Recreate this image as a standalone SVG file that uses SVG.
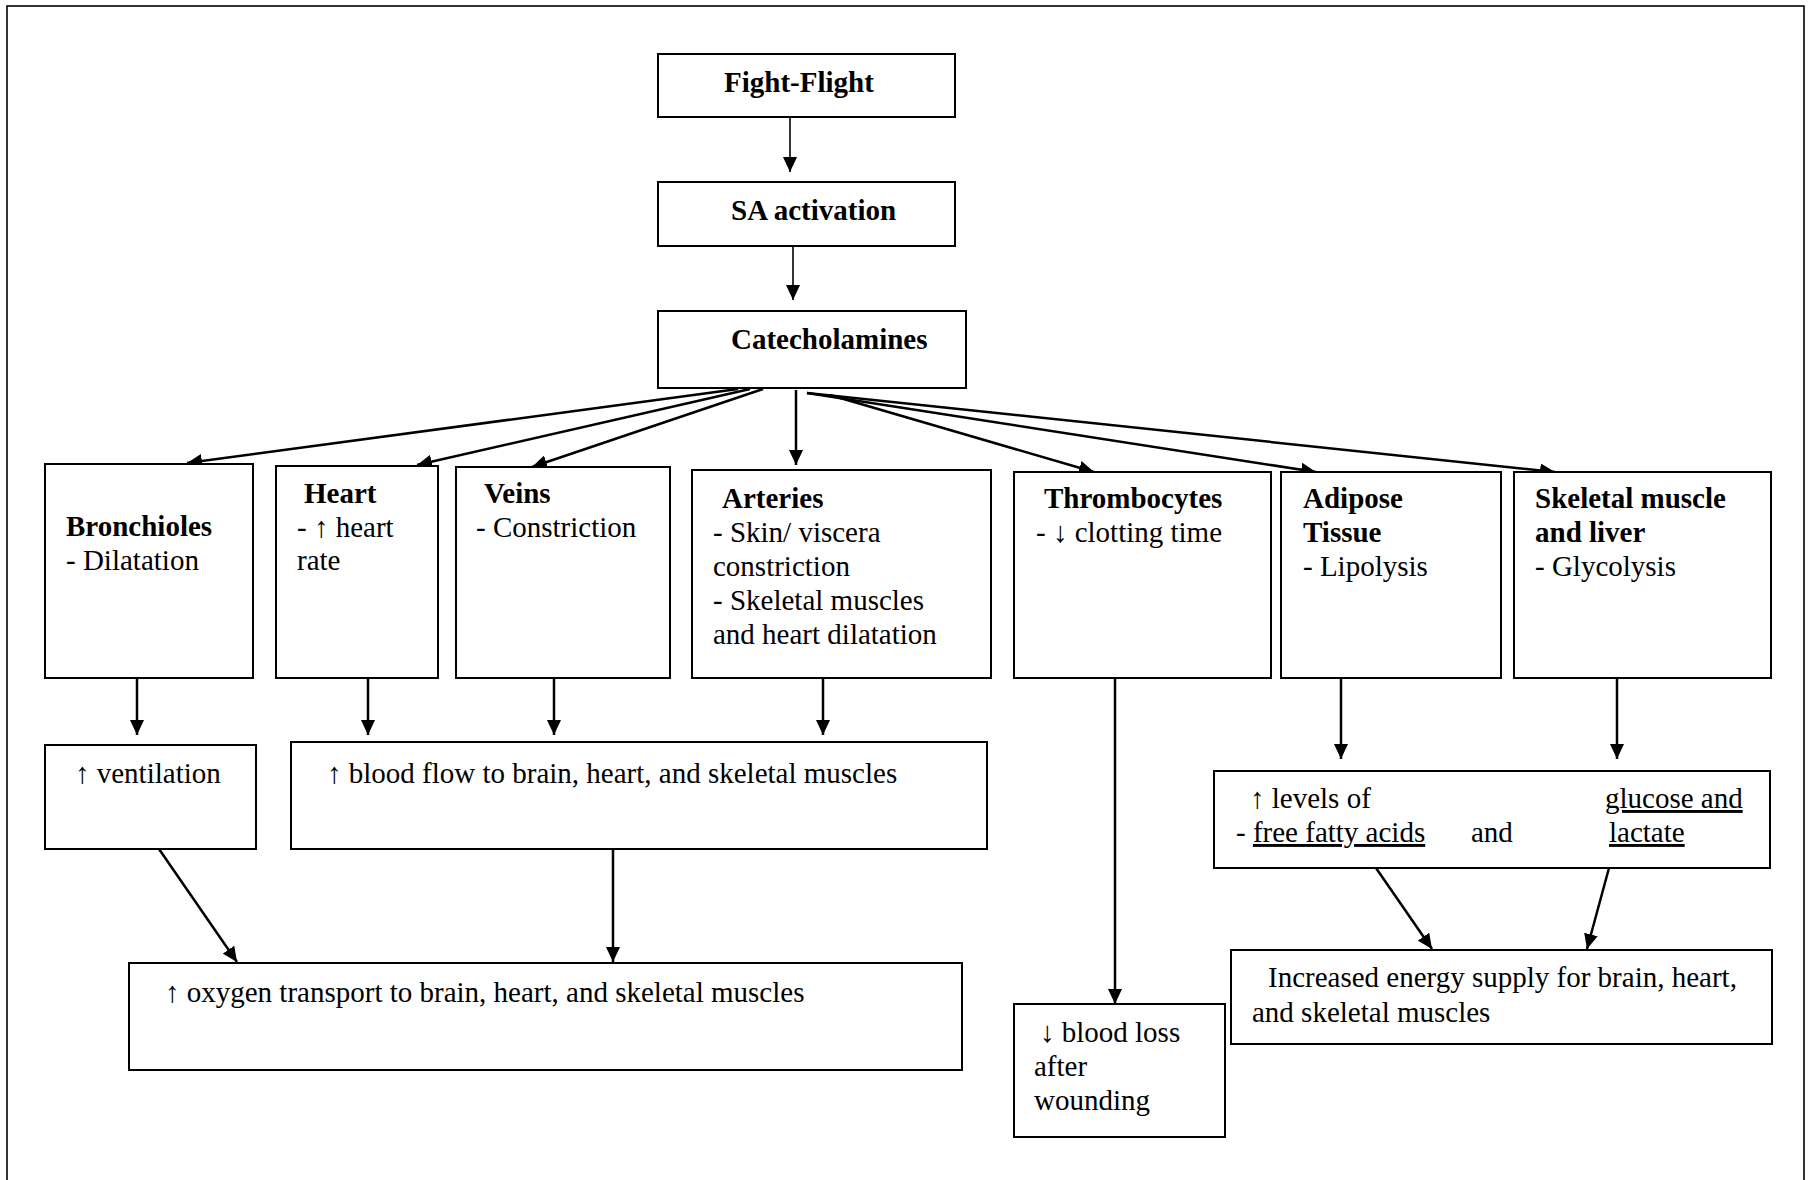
<svg xmlns="http://www.w3.org/2000/svg" width="1808" height="1180" viewBox="0 0 1808 1180">
<style>
.box{fill:#fff;stroke:#000;stroke-width:2}
.t{font-family:"Liberation Serif","Times New Roman",serif;font-size:29px;fill:#000}
.b{font-weight:bold}
.u{text-decoration:underline}
.c{stroke:#000;stroke-width:2.5;fill:none;marker-end:url(#ah)}
.thin{stroke-width:1.6}
</style>
<defs>
<marker id="ah" markerUnits="userSpaceOnUse" markerWidth="16" markerHeight="14" refX="15" refY="7" orient="auto">
<path d="M0,0 L15,7 L0,14 z" fill="#000"/>
</marker>
</defs>
<rect x="0" y="0" width="1808" height="1180" fill="#fff"/>
<rect x="7" y="6" width="1797" height="1190" fill="none" stroke="#000" stroke-width="1.6"/>

<g id="connectors">
<line class="c thin" x1="790" y1="117" x2="790" y2="172"/>
<line class="c thin" x1="793" y1="246" x2="793" y2="300"/>
<line class="c" x1="738" y1="389" x2="187" y2="463"/>
<line class="c" x1="750" y1="389" x2="417" y2="465"/>
<line class="c" x1="763" y1="389" x2="532" y2="467"/>
<line class="c" x1="796" y1="390" x2="796" y2="465"/>
<line class="c" x1="830" y1="395" x2="1094" y2="472"/>
<line class="c" x1="807" y1="393" x2="1316" y2="472"/>
<line class="c" x1="807" y1="393" x2="1555" y2="472"/>
<line class="c" x1="137" y1="678" x2="137" y2="735"/>
<line class="c" x1="368" y1="678" x2="368" y2="735"/>
<line class="c" x1="554" y1="678" x2="554" y2="735"/>
<line class="c" x1="823" y1="678" x2="823" y2="735"/>
<line class="c" x1="1341" y1="678" x2="1341" y2="759"/>
<line class="c" x1="1617" y1="678" x2="1617" y2="759"/>
<line class="c" x1="1115" y1="678" x2="1115" y2="1004"/>
<line class="c" x1="159" y1="849" x2="237" y2="962"/>
<line class="c" x1="613" y1="849" x2="613" y2="962"/>
<line class="c" x1="1376" y1="868" x2="1432" y2="949"/>
<line class="c" x1="1609" y1="868" x2="1587" y2="949"/>
</g>

<g id="fight-flight">
<rect class="box" x="658" y="54" width="297" height="63"/>
<text class="t b" x="724" y="92">Fight-Flight</text>
</g>
<g id="sa-activation">
<rect class="box" x="658" y="182" width="297" height="64"/>
<text class="t b" x="731" y="220">SA activation</text>
</g>
<g id="catecholamines">
<rect class="box" x="658" y="311" width="308" height="77"/>
<text class="t b" x="731" y="349">Catecholamines</text>
</g>

<g id="bronchioles">
<rect class="box" x="45" y="464" width="208" height="214"/>
<text class="t b" x="66" y="536">Bronchioles</text>
<text class="t" x="66" y="570">- Dilatation</text>
</g>
<g id="heart">
<rect class="box" x="276" y="466" width="162" height="212"/>
<text class="t b" x="304" y="503">Heart</text>
<text class="t" x="297" y="537">- ↑ heart</text>
<text class="t" x="297" y="570">rate</text>
</g>
<g id="veins">
<rect class="box" x="456" y="467" width="214" height="211"/>
<text class="t b" x="484" y="503">Veins</text>
<text class="t" x="476" y="537">- Constriction</text>
</g>
<g id="arteries">
<rect class="box" x="692" y="470" width="299" height="208"/>
<text class="t b" x="722" y="508">Arteries</text>
<text class="t" x="713" y="542">- Skin/ viscera</text>
<text class="t" x="713" y="576">constriction</text>
<text class="t" x="713" y="610">- Skeletal muscles</text>
<text class="t" x="713" y="644">and heart dilatation</text>
</g>
<g id="thrombocytes">
<rect class="box" x="1014" y="472" width="257" height="206"/>
<text class="t b" x="1044" y="508">Thrombocytes</text>
<text class="t" x="1036" y="542">- ↓ clotting time</text>
</g>
<g id="adipose">
<rect class="box" x="1281" y="472" width="220" height="206"/>
<text class="t b" x="1303" y="508">Adipose</text>
<text class="t b" x="1303" y="542">Tissue</text>
<text class="t" x="1303" y="576">- Lipolysis</text>
</g>
<g id="skeletal-liver">
<rect class="box" x="1514" y="472" width="257" height="206"/>
<text class="t b" x="1535" y="508">Skeletal muscle</text>
<text class="t b" x="1535" y="542">and liver</text>
<text class="t" x="1535" y="576">- Glycolysis</text>
</g>

<g id="ventilation">
<rect class="box" x="45" y="745" width="211" height="104"/>
<text class="t" x="75" y="783">↑ ventilation</text>
</g>
<g id="blood-flow">
<rect class="box" x="291" y="742" width="696" height="107"/>
<text class="t" x="327" y="783">↑ blood flow to brain, heart, and skeletal muscles</text>
</g>
<g id="oxygen">
<rect class="box" x="129" y="963" width="833" height="107"/>
<text class="t" x="165" y="1002">↑ oxygen transport to brain, heart, and skeletal muscles</text>
</g>
<g id="blood-loss">
<rect class="box" x="1014" y="1004" width="211" height="133"/>
<text class="t" x="1040" y="1042">↓ blood loss</text>
<text class="t" x="1034" y="1076">after</text>
<text class="t" x="1034" y="1110">wounding</text>
</g>
<g id="levels">
<rect class="box" x="1214" y="771" width="556" height="97"/>
<text class="t" x="1250" y="808">↑ levels of</text>
<text class="t" x="1236" y="842">- <tspan class="u">free fatty acids</tspan></text>
<text class="t" x="1471" y="842">and</text>
<text class="t u" x="1605" y="808">glucose and</text>
<text class="t u" x="1609" y="842">lactate</text>
</g>
<g id="energy">
<rect class="box" x="1231" y="950" width="541" height="94"/>
<text class="t" x="1268" y="987">Increased energy supply for brain, heart,</text>
<text class="t" x="1252" y="1022">and skeletal muscles</text>
</g>
</svg>
